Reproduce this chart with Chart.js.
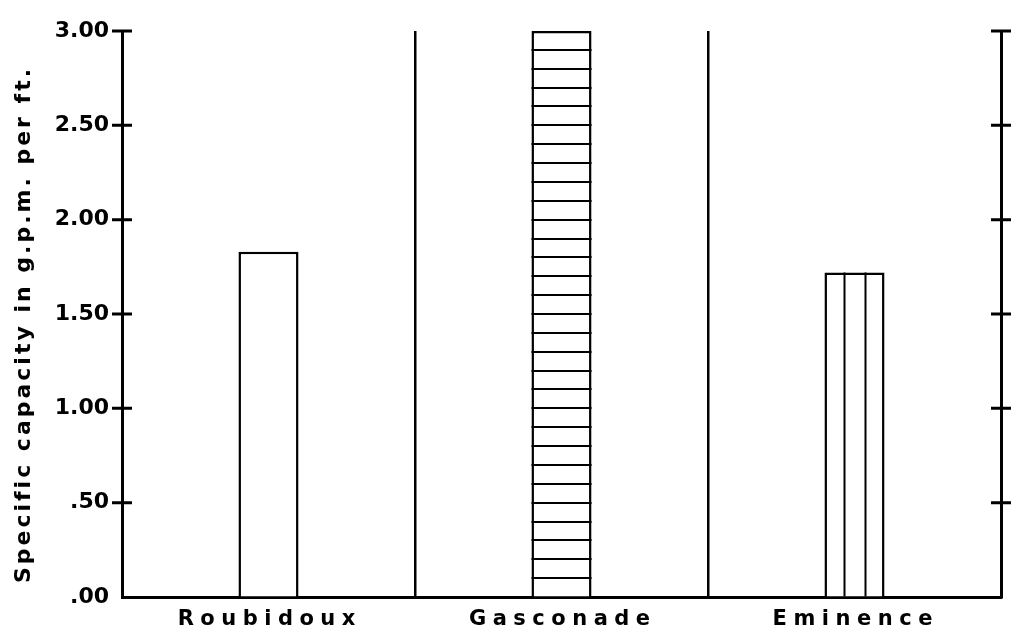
<!DOCTYPE html>
<html>
<head>
<meta charset="utf-8">
<script src="https://cdn.jsdelivr.net/npm/chart.js@4.4.1/dist/chart.umd.min.js"></script>
<style>
  html, body { margin: 0; background: #fff; }
  canvas { display: block; }
</style>
</head>
<body>
<canvas id="chart" width="1011" height="629"></canvas>
<script>
  const formations = ["Roubidoux", "Gasconade", "Eminence"];
  const specificCapacity = [1.83, 3.00, 1.72];
  const yTickValues = [0, 0.5, 1, 1.5, 2, 2.5, 3];
  const yTickLabels = [".00", ".50", "1.00", "1.50", "2.00", "2.50", "3.00"];
  const yTitle = "Specific capacity in g.p.m. per ft.";
  const hatch = ["none", "horizontal", "vertical"];

  const FONT = '"DejaVu Sans", sans-serif';
  const INK = "#000";

  // bar hatching, cross ticks on both axes, spaced labels
  const decor = {
    id: "decor",
    afterDatasetsDraw(chart) {
      const ctx = chart.ctx, ys = chart.scales.y;
      const meta = chart.getDatasetMeta(0);
      ctx.save();
      ctx.strokeStyle = INK;
      ctx.lineWidth = 2;
      meta.data.forEach((bar, i) => {
        const { x, y, base, width } = bar.getProps(["x", "y", "base", "width"], true);
        const l = x - width / 2, r = x + width / 2;
        ctx.beginPath();
        if (hatch[i] === "horizontal") {
          for (let k = 1; k / 10 < specificCapacity[i] - 1e-6; k++) {
            const py = Math.round(ys.getPixelForValue(k / 10));
            ctx.moveTo(l, py); ctx.lineTo(r, py);
          }
        } else if (hatch[i] === "vertical") {
          for (let k = 1; k < 3; k++) {
            const px = Math.round(l + width * k / 3) + 0.5;
            ctx.moveTo(px, y); ctx.lineTo(px, base);
          }
        }
        ctx.stroke();
      });
      ctx.restore();
    },
    afterDraw(chart) {
      const ctx = chart.ctx, area = chart.chartArea;
      ctx.save();
      ctx.strokeStyle = INK;
      ctx.lineWidth = 3;
      ctx.beginPath();
      [["y", area.left], ["y2", area.right]].forEach(([id, ax]) => {
        const s = chart.scales[id];
        s.ticks.forEach((t) => {
          if (t.value <= 0) return;
          const py = s.getPixelForValue(t.value);
          ctx.moveTo(ax - 10, py); ctx.lineTo(ax + 10, py);
        });
      });
      ctx.stroke();

      ctx.fillStyle = INK;
      // category names
      const xs = chart.scales.x;
      const sp = 6.5;
      ctx.font = "bold 21px " + FONT;
      ctx.letterSpacing = sp + "px";
      ctx.textAlign = "center";
      ctx.textBaseline = "alphabetic";
      formations.forEach((f, i) => ctx.fillText(f, xs.getPixelForTick(i) - 2 + sp / 2, 625));

      // y title
      const tsp = 3;
      ctx.font = "bold 22px " + FONT;
      ctx.letterSpacing = tsp + "px";
      ctx.translate(24, 326);
      ctx.rotate(-Math.PI / 2);
      ctx.textBaseline = "middle";
      ctx.fillText(yTitle, tsp / 2, 0);
      ctx.restore();
    }
  };

  const fixedTicks = (s) => { s.ticks = yTickValues.map((v) => ({ value: v })); };

  new Chart(document.getElementById("chart"), {
    type: "bar",
    data: {
      labels: formations,
      datasets: [{
        data: specificCapacity,
        backgroundColor: "#fff",
        borderColor: INK,
        borderWidth: 2.5,
        barPercentage: 0.205,
        categoryPercentage: 1,
        clip: false
      }]
    },
    options: {
      responsive: false,
      animation: false,
      devicePixelRatio: 1,
      layout: { padding: { top: 31 } },
      plugins: { legend: { display: false }, tooltip: { enabled: false } },
      scales: {
        x: {
          grid: { color: INK, lineWidth: 2.5, drawTicks: false, offset: true },
          border: { color: INK, width: 3 },
          ticks: { display: false },
          afterFit: (s) => { s.height = 32; }
        },
        y: {
          position: "left",
          min: 0, max: 3,
          afterBuildTicks: fixedTicks,
          ticks: {
            callback: (v, i) => yTickLabels[i],
            color: INK,
            padding: 13,
            font: { family: FONT, size: 22, weight: "bold" }
          },
          grid: { drawOnChartArea: false, drawTicks: false },
          border: { color: INK, width: 3 },
          afterFit: (s) => { s.width = 122; }
        },
        y2: {
          position: "right",
          min: 0, max: 3,
          afterBuildTicks: fixedTicks,
          ticks: { display: false },
          grid: { drawOnChartArea: false, drawTicks: false },
          border: { color: INK, width: 3 },
          afterFit: (s) => { s.width = 10; }
        }
      }
    },
    plugins: [decor]
  });
</script>
</body>
</html>
